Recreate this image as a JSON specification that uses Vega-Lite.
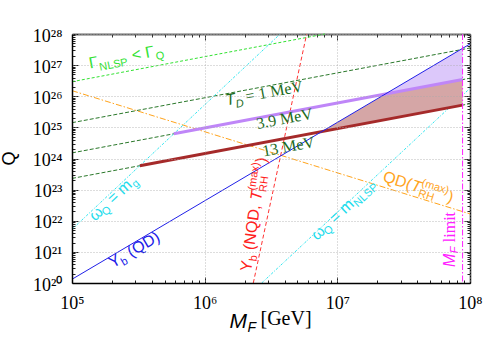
{
  "$schema": "https://vega.github.io/schema/vega-lite/v6.json",
  "width": 398,
  "height": 249,
  "autosize": {"type": "none"},
  "padding": {"left": 72, "top": 34, "right": 21, "bottom": 60},
  "background": "white",
  "config": {"view": {"stroke": null}},
  "datasets": {
    "thin": [
      {"s": "gam", "MF": 1e5, "Q": 2.931e26}, {"s": "gam", "MF": 8.07e6, "Q": 1e28},
      {"s": "td1", "MF": 1e5, "Q": 1.413e25}, {"s": "td1", "MF": 1e8, "Q": 3.548e27},
      {"s": "td39", "MF": 1e5, "Q": 1.514e24}, {"s": "td39", "MF": 1e8, "Q": 3.802e26},
      {"s": "td13", "MF": 1e5, "Q": 2.291e23}, {"s": "td13", "MF": 1e8, "Q": 5.754e25},
      {"s": "qdt", "MF": 1e5, "Q": 1.514e26}, {"s": "qdt", "MF": 1e8, "Q": 1.66e22},
      {"s": "omg", "MF": 1e5, "Q": 5.309e21}, {"s": "omg", "MF": 3.707e6, "Q": 1e28},
      {"s": "omn", "MF": 2.692e6, "Q": 1e20}, {"s": "omn", "MF": 1e8, "Q": 1.8e26},
      {"s": "ybn", "MF": 2.326e6, "Q": 1e20}, {"s": "ybn", "MF": 5.875e6, "Q": 1e28}
    ],
    "thick": [
      {"s": "p39", "MF": 5.85e5, "Q": 6.22e24}, {"s": "p39", "MF": 8.79e7, "Q": 3.428e26},
      {"s": "b13", "MF": 3.245e5, "Q": 5.875e23}, {"s": "b13", "MF": 8.79e7, "Q": 5.188e25}
    ],
    "blue": [
      {"s": "ybqd", "MF": 1e5, "Q": 1.318e20}, {"s": "ybqd", "MF": 1e8, "Q": 4.786e27}
    ],
    "fills": [
      {"reg": "brown", "MF": 7.65e6, "lo": 7.362e24, "hi": 7.362e24},
      {"reg": "brown", "MF": 2.294e7, "lo": 1.77e25, "hi": 1.169e26},
      {"reg": "brown", "MF": 8.79e7, "lo": 5.188e25, "hi": 3.428e26},
      {"reg": "purple", "MF": 2.294e7, "lo": 1.169e26, "hi": 1.169e26},
      {"reg": "purple", "MF": 8.79e7, "lo": 3.428e26, "hi": 3.459e27}
    ],
    "mlim": [{"MF": 8.79e7}],
    "txt_sans": [
      {"g": "gam", "p": "base", "t": "Γ", "MF": 1.367e5, "Q": 7.79e26},
      {"g": "gam", "p": "sub", "t": "NLSP", "MF": 1.628e5, "Q": 6.62e26},
      {"g": "gam", "p": "base", "t": "< Γ", "MF": 2.872e5, "Q": 1.408e27},
      {"g": "gam", "p": "sub", "t": "Q", "MF": 4.327e5, "Q": 1.45e27},
      {"g": "omg", "p": "base", "t": "ω", "MF": 1.491e5, "Q": 9.32e21},
      {"g": "omg", "p": "sub", "t": "Q", "MF": 1.798e5, "Q": 1.38e22},
      {"g": "omg", "p": "base", "t": "= m", "MF": 2.044e5, "Q": 3.303e22},
      {"g": "omg", "p": "sub", "t": "g", "MF": 3.027e5, "Q": 1.111e23},
      {"g": "ybqd", "p": "base", "t": "Y", "MF": 2.027e5, "Q": 2.967e20},
      {"g": "ybqd", "p": "sub", "t": "b", "MF": 2.445e5, "Q": 3.517e20},
      {"g": "ybqd", "p": "base", "t": "(QD)", "MF": 2.79e5, "Q": 6.596e20},
      {"g": "ybn", "p": "base", "t": "Y", "MF": 2.235e6, "Q": 2.256e20},
      {"g": "ybn", "p": "sub", "t": "b", "MF": 2.459e6, "Q": 4.834e20},
      {"g": "ybn", "p": "base", "t": "(NQD,", "MF": 2.354e6, "Q": 1.115e21},
      {"g": "ybn", "p": "sub", "t": "RH", "MF": 2.909e6, "Q": 8.144e22},
      {"g": "ybn", "p": "sup", "t": "(max)", "MF": 2.408e6, "Q": 9.167e22},
      {"g": "ybn", "p": "base", "t": ")", "MF": 2.909e6, "Q": 6.909e23},
      {"g": "omn", "p": "base", "t": "ω", "MF": 7.026e6, "Q": 2.236e21},
      {"g": "omn", "p": "sub", "t": "Q", "MF": 8.474e6, "Q": 3.309e21},
      {"g": "omn", "p": "base", "t": "= m", "MF": 9.636e6, "Q": 7.922e21},
      {"g": "omn", "p": "sub", "t": "NLSP", "MF": 1.426e7, "Q": 2.665e22},
      {"g": "qdt", "p": "base", "t": "QD(", "MF": 2.17e7, "Q": 1.893e23},
      {"g": "qdt", "p": "sub", "t": "RH", "MF": 4.027e7, "Q": 6.103e22},
      {"g": "qdt", "p": "sup", "t": "(max)", "MF": 4.265e7, "Q": 1.327e23},
      {"g": "qdt", "p": "base", "t": ")", "MF": 6.637e7, "Q": 4.248e22}
    ],
    "txt_ital": [
      {"g": "td", "p": "base", "t": "T", "MF": 1.46e6, "Q": 5.044e25},
      {"g": "td", "p": "sub", "t": "D", "MF": 1.741e6, "Q": 4.286e25},
      {"g": "ybn", "p": "base", "t": "T", "MF": 2.658e6, "Q": 4.279e22},
      {"g": "qdt", "p": "base", "t": "T", "MF": 3.529e7, "Q": 9.872e22},
      {"g": "mfl", "p": "base", "t": "M", "MF": 7.705e7, "Q": 3.266e20},
      {"g": "mfl", "p": "sub", "t": "F", "MF": 8.189e7, "Q": 9.067e20}
    ],
    "txt_serif": [
      {"g": "td", "p": "base", "t": "= 1 MeV", "MF": 2.07e6, "Q": 6.68e25},
      {"g": "td", "p": "base", "t": "3.9 MeV", "MF": 2.502e6, "Q": 8.867e24},
      {"g": "td", "p": "base", "t": "13 MeV", "MF": 2.776e6, "Q": 1.16e24},
      {"g": "mfl", "p": "base", "t": "limit", "MF": 7.705e7, "Q": 2.046e21}
    ]
  },
  "resolve": {
    "axis": {"x": "independent", "y": "independent"},
    "scale": {"color": "independent", "strokeDash": "independent"}
  },
  "layer": [
    {
      "data": {"name": "thin"},
      "mark": {"type": "line", "strokeWidth": 1},
      "encoding": {
        "x": {"field": "MF", "type": "quantitative", "scale": {"type": "log", "domain": [1e5, 1e8], "nice": false},
          "axis": {"orient": "bottom", "values": [1e5, 1e6, 1e7, 1e8],
            "labelExpr": "['10⁵','10⁶','10⁷','10⁸'][round(log(datum.value)/LN10)-5]",
            "labelFont": "Liberation Serif", "labelFontSize": 18, "labelColor": "#000", "labelPadding": 11,
            "labelBaseline": "top", "labelAlign": "center", "labelFlush": false, "labelOverlap": false,
            "ticks": false, "tickSize": 0, "domain": true, "domainColor": "#000", "domainWidth": 1.5,
            "grid": true, "gridColor": "#a8a8a8", "gridDash": [1, 2], "gridWidth": 0.8, "zindex": 1,
            "title": "M", "titleFont": "Liberation Sans", "titleFontStyle": "italic", "titleFontWeight": "normal",
            "titleFontSize": 21, "titleColor": "#000", "titleX": 157, "titleY": 44, "titleAlign": "left",
            "titleBaseline": "alphabetic", "titleAngle": 0}},
        "y": {"field": "Q", "type": "quantitative", "scale": {"type": "log", "domain": [1e20, 1e28], "nice": false},
          "axis": {"orient": "left", "values": [1e20, 1e21, 1e22, 1e23, 1e24, 1e25, 1e26, 1e27, 1e28],
            "labelExpr": "['10²⁰','10²¹','10²²','10²³','10²⁴','10²⁵','10²⁶','10²⁷','10²⁸'][round(log(datum.value)/LN10)-20]",
            "labelFont": "Liberation Serif", "labelFontSize": 18, "labelColor": "#000", "labelPadding": 10,
            "labelOffset": 2, "labelBaseline": "middle", "labelAlign": "right", "labelFlush": false, "labelOverlap": false,
            "ticks": false, "tickSize": 0, "domain": true, "domainColor": "#000", "domainWidth": 1.5,
            "grid": true, "gridColor": "#a8a8a8", "gridDash": [1, 2], "gridWidth": 0.8, "zindex": 1,
            "title": "Q", "titleFont": "Liberation Sans", "titleFontWeight": "normal", "titleFontSize": 18,
            "titleColor": "#000", "titleAngle": 270, "titleX": -63, "titleY": 124, "titleAlign": "center",
            "titleBaseline": "middle"}},
        "color": {"field": "s", "type": "nominal", "legend": null,
          "scale": {"domain": ["gam", "td1", "td39", "td13", "qdt", "omg", "omn", "ybn"],
            "range": ["#33e233", "#2a782a", "#2a782a", "#2a782a", "#ffa41c", "#30e6f0", "#30e6f0", "#ff3434"]}},
        "strokeDash": {"field": "s", "type": "nominal", "legend": null,
          "scale": {"domain": ["gam", "td1", "td39", "td13", "qdt", "omg", "omn", "ybn"],
            "range": [[3, 2], [4, 2], [4, 2], [4, 2], [6, 2, 1.5, 2], [2.5, 1.5, 1, 1.5], [2.5, 1.5, 1, 1.5], [4, 2.5]]}}
      }
    },
    {
      "data": {"name": "fills"},
      "mark": {"type": "area", "opacity": 1},
      "encoding": {
        "x": {"field": "MF", "type": "quantitative", "scale": {"type": "log", "domain": [1e5, 1e8], "nice": false},
          "axis": {"orient": "top", "offset": -249,
            "values": [2e5, 3e5, 4e5, 5e5, 6e5, 7e5, 8e5, 9e5, 2e6, 3e6, 4e6, 5e6, 6e6, 7e6, 8e6, 9e6, 2e7, 3e7, 4e7, 5e7, 6e7, 7e7, 8e7, 9e7],
            "labels": false, "domain": false, "grid": false, "ticks": true, "tickColor": "#222", "tickWidth": 1, "tickSize": 3,
            "title": "F", "titleFont": "Liberation Sans", "titleFontStyle": "italic", "titleFontWeight": "normal",
            "titleFontSize": 14, "titleColor": "#000", "titleX": 175, "titleY": 48, "titleAlign": "left",
            "titleBaseline": "alphabetic", "titleAngle": 0}},
        "y": {"field": "lo", "type": "quantitative", "stack": null, "scale": {"type": "log", "domain": [1e20, 1e28], "nice": false},
          "axis": {"orient": "right", "offset": -398,
            "values": [2e20, 3e20, 4e20, 5e20, 6e20, 7e20, 8e20, 9e20, 2e21, 3e21, 4e21, 5e21, 6e21, 7e21, 8e21, 9e21, 2e22, 3e22, 4e22, 5e22, 6e22, 7e22, 8e22, 9e22, 2e23, 3e23, 4e23, 5e23, 6e23, 7e23, 8e23, 9e23, 2e24, 3e24, 4e24, 5e24, 6e24, 7e24, 8e24, 9e24, 2e25, 3e25, 4e25, 5e25, 6e25, 7e25, 8e25, 9e25, 2e26, 3e26, 4e26, 5e26, 6e26, 7e26, 8e26, 9e26, 2e27, 3e27, 4e27, 5e27, 6e27, 7e27, 8e27, 9e27],
            "labels": false, "domain": false, "grid": false, "ticks": true, "tickColor": "#222", "tickWidth": 1, "tickSize": 3,
            "title": null}},
        "y2": {"field": "hi"},
        "color": {"field": "reg", "type": "nominal", "legend": null,
          "scale": {"domain": ["brown", "purple"], "range": ["#d5a6a6", "#dcc8fa"]}}
      }
    },
    {
      "data": {"name": "thick"},
      "mark": {"type": "line", "strokeWidth": 3},
      "encoding": {
        "x": {"field": "MF", "type": "quantitative", "scale": {"type": "log", "domain": [1e5, 1e8], "nice": false},
          "axis": {"orient": "bottom", "offset": -249, "values": [1e5, 1e6, 1e7, 1e8],
            "labels": false, "domain": true, "domainColor": "#666", "domainWidth": 2, "grid": false,
            "ticks": true, "tickColor": "#333", "tickWidth": 1, "tickSize": 6,
            "title": "[GeV]", "titleFont": "Liberation Serif", "titleFontWeight": "normal", "titleFontSize": 20,
            "titleColor": "#000", "titleX": 188, "titleY": 290, "titleAlign": "left", "titleBaseline": "alphabetic",
            "titleAngle": 0}},
        "y": {"field": "Q", "type": "quantitative", "scale": {"type": "log", "domain": [1e20, 1e28], "nice": false},
          "axis": {"orient": "left", "offset": -398, "values": [1e20, 1e21, 1e22, 1e23, 1e24, 1e25, 1e26, 1e27, 1e28],
            "labels": false, "domain": true, "domainColor": "#111", "domainWidth": 1.5, "grid": false,
            "ticks": true, "tickColor": "#222", "tickWidth": 1, "tickSize": 6, "title": null}},
        "color": {"field": "s", "type": "nominal", "legend": null,
          "scale": {"domain": ["p39", "b13"], "range": ["#bf86f8", "#a52a2a"]}}
      }
    },
    {
      "data": {"name": "blue"},
      "mark": {"type": "line", "strokeWidth": 1, "color": "#2020e8"},
      "encoding": {
        "x": {"field": "MF", "type": "quantitative", "scale": {"type": "log", "domain": [1e5, 1e8], "nice": false},
          "axis": {"orient": "top", "offset": -249, "values": [1e5, 1e6, 1e7, 1e8],
            "labels": false, "domain": false, "grid": false, "ticks": true, "tickColor": "#222", "tickWidth": 1, "tickSize": 6, "title": null}},
        "y": {"field": "Q", "type": "quantitative", "scale": {"type": "log", "domain": [1e20, 1e28], "nice": false},
          "axis": {"orient": "right", "offset": -398, "values": [1e20, 1e21, 1e22, 1e23, 1e24, 1e25, 1e26, 1e27, 1e28],
            "labels": false, "domain": false, "grid": false, "ticks": true, "tickColor": "#222", "tickWidth": 1, "tickSize": 6, "title": null}}
      }
    },
    {
      "data": {"name": "mlim"},
      "mark": {"type": "rule", "color": "#ff22ff", "strokeWidth": 1, "strokeDash": [6, 2, 1.5, 2]},
      "encoding": {
        "x": {"field": "MF", "type": "quantitative", "scale": {"type": "log", "domain": [1e5, 1e8], "nice": false},
          "axis": {"orient": "bottom", "offset": -249,
            "values": [2e5, 3e5, 4e5, 5e5, 6e5, 7e5, 8e5, 9e5, 2e6, 3e6, 4e6, 5e6, 6e6, 7e6, 8e6, 9e6, 2e7, 3e7, 4e7, 5e7, 6e7, 7e7, 8e7, 9e7],
            "labels": false, "domain": false, "grid": false, "ticks": true, "tickColor": "#333", "tickWidth": 1, "tickSize": 3, "title": null}}
      }
    },
    {
      "data": {"name": "txt_sans"},
      "mark": {"type": "text", "align": "left", "baseline": "alphabetic", "font": "Liberation Sans"},
      "encoding": {
        "x": {"field": "MF", "type": "quantitative", "scale": {"type": "log", "domain": [1e5, 1e8], "nice": false}, "axis": null},
        "y": {"field": "Q", "type": "quantitative", "scale": {"type": "log", "domain": [1e20, 1e28], "nice": false},
          "axis": {"orient": "left", "offset": -398,
            "values": [2e20, 3e20, 4e20, 5e20, 6e20, 7e20, 8e20, 9e20, 2e21, 3e21, 4e21, 5e21, 6e21, 7e21, 8e21, 9e21, 2e22, 3e22, 4e22, 5e22, 6e22, 7e22, 8e22, 9e22, 2e23, 3e23, 4e23, 5e23, 6e23, 7e23, 8e23, 9e23, 2e24, 3e24, 4e24, 5e24, 6e24, 7e24, 8e24, 9e24, 2e25, 3e25, 4e25, 5e25, 6e25, 7e25, 8e25, 9e25, 2e26, 3e26, 4e26, 5e26, 6e26, 7e26, 8e26, 9e26, 2e27, 3e27, 4e27, 5e27, 6e27, 7e27, 8e27, 9e27],
            "labels": false, "domain": false, "grid": false, "ticks": true, "tickColor": "#222", "tickWidth": 1, "tickSize": 3, "title": null}},
        "text": {"field": "t", "type": "nominal"},
        "color": {"field": "g", "type": "nominal", "legend": null,
          "scale": {"domain": ["gam", "td", "omg", "ybqd", "ybn", "omn", "qdt", "mfl"],
            "range": ["#33e233", "#1d6b1d", "#22dcec", "#2020e8", "#ff2020", "#22dcec", "#ffa41c", "#ff20ff"]}},
        "angle": {"condition": [
          {"test": "datum.g==='gam'||datum.g==='td'", "value": -10.6},
          {"test": "datum.g==='omg'||datum.g==='omn'", "value": -43.2},
          {"test": "datum.g==='ybqd'", "value": -30.4},
          {"test": "datum.g==='ybn'", "value": -82},
          {"test": "datum.g==='qdt'", "value": 17.4}], "value": -90},
        "size": {"condition": {"test": "datum.p!=='base'", "value": 11}, "value": 16}
      }
    },
    {
      "data": {"name": "txt_ital"},
      "mark": {"type": "text", "align": "left", "baseline": "alphabetic", "font": "Liberation Sans", "fontStyle": "italic"},
      "encoding": {
        "x": {"field": "MF", "type": "quantitative", "scale": {"type": "log", "domain": [1e5, 1e8], "nice": false}, "axis": null},
        "y": {"field": "Q", "type": "quantitative", "scale": {"type": "log", "domain": [1e20, 1e28], "nice": false}, "axis": null},
        "text": {"field": "t", "type": "nominal"},
        "color": {"field": "g", "type": "nominal", "legend": null,
          "scale": {"domain": ["gam", "td", "omg", "ybqd", "ybn", "omn", "qdt", "mfl"],
            "range": ["#33e233", "#1d6b1d", "#22dcec", "#2020e8", "#ff2020", "#22dcec", "#ffa41c", "#ff20ff"]}},
        "angle": {"condition": [
          {"test": "datum.g==='gam'||datum.g==='td'", "value": -10.6},
          {"test": "datum.g==='omg'||datum.g==='omn'", "value": -43.2},
          {"test": "datum.g==='ybqd'", "value": -30.4},
          {"test": "datum.g==='ybn'", "value": -82},
          {"test": "datum.g==='qdt'", "value": 17.4}], "value": -90},
        "size": {"condition": {"test": "datum.p!=='base'", "value": 11}, "value": 16}
      }
    },
    {
      "data": {"name": "txt_serif"},
      "mark": {"type": "text", "align": "left", "baseline": "alphabetic", "font": "Liberation Serif"},
      "encoding": {
        "x": {"field": "MF", "type": "quantitative", "scale": {"type": "log", "domain": [1e5, 1e8], "nice": false}, "axis": null},
        "y": {"field": "Q", "type": "quantitative", "scale": {"type": "log", "domain": [1e20, 1e28], "nice": false}, "axis": null},
        "text": {"field": "t", "type": "nominal"},
        "color": {"field": "g", "type": "nominal", "legend": null,
          "scale": {"domain": ["gam", "td", "omg", "ybqd", "ybn", "omn", "qdt", "mfl"],
            "range": ["#33e233", "#1d6b1d", "#22dcec", "#2020e8", "#ff2020", "#22dcec", "#ffa41c", "#ff20ff"]}},
        "angle": {"condition": [
          {"test": "datum.g==='gam'||datum.g==='td'", "value": -10.6},
          {"test": "datum.g==='omg'||datum.g==='omn'", "value": -43.2},
          {"test": "datum.g==='ybqd'", "value": -30.4},
          {"test": "datum.g==='ybn'", "value": -82},
          {"test": "datum.g==='qdt'", "value": 17.4}], "value": -90},
        "size": {"condition": {"test": "datum.p!=='base'", "value": 11}, "value": 16}
      }
    }
  ]
}
